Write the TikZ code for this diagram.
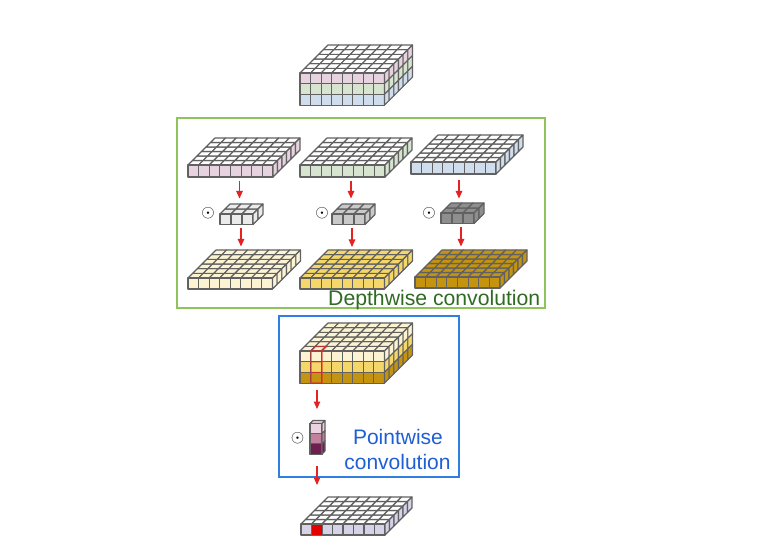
\documentclass[tikz,border=0pt]{standalone}
\usepackage{fontspec}
\setmainfont{Liberation Sans}
\usetikzlibrary{arrows.meta}
\definecolor{pk}{HTML}{E6D3DF}\definecolor{gn}{HTML}{D6E4D0}\definecolor{bl}{HTML}{CFDDEC}
\definecolor{k1}{HTML}{EBEBEB}\definecolor{k2}{HTML}{C9C9C9}\definecolor{k3}{HTML}{8E8E8E}
\definecolor{cr}{HTML}{FBF3D2}\definecolor{ye}{HTML}{F4D768}\definecolor{go}{HTML}{C4930F}
\definecolor{li}{HTML}{D6D3E8}\definecolor{wt}{HTML}{FFFFFF}
\definecolor{p1}{HTML}{EAD3DF}\definecolor{p2}{HTML}{C2809F}\definecolor{p3}{HTML}{6E1F4F}
\definecolor{framegreen}{HTML}{8FC45A}\definecolor{frameblue}{HTML}{2F7FE3}
\definecolor{txtgreen}{HTML}{2F6B22}\definecolor{txtblue}{HTML}{1F5FD6}
\definecolor{arr}{HTML}{E32222}
\tikzset{
  cell/.style={draw=black!62,line width=1.1pt,line join=round},
  flow/.style={draw=arr,line width=1.1pt,-{Triangle[length=7.5pt,width=6.5pt]}},
  frame/.style={draw=#1,line width=1.6pt,inner sep=0pt,fill=none},
  dotop/.style={inner sep=0pt,font=\fontsize{17}{17}\selectfont},
  cap/.style={font=\fontsize{#1}{#1}\selectfont,inner sep=0pt}
}
% \blk{name}{x,y of front top-left}{width,layer h,cols,rows,depth}{top colour}{layer colours}
\def\blkparse#1,#2,#3,#4,#5;{\def\bw{#1}\def\bh{#2}\def\bc{#3}\def\br{#4}\def\bd{#5}}
\newcommand\blk[5]{%
  \blkparse#3;
  \coordinate (#1) at (#2);
  \begin{scope}[shift={(#2)}]
    \pgfmathsetmacro\cw{\bw/\bc}\pgfmathsetmacro\st{\bd/\br}
    \foreach \i in {1,...,\bc}{\foreach \j in {1,...,\br}{
      \pgfmathsetmacro\xa{(\i-1)*\cw+(\j-1)*\st}
      \pgfmathsetmacro\ya{-(\j-1)*\st}
      \draw[cell,fill=#4] (\xa,\ya) -- ++(\cw,0) -- ++(\st,-\st) -- ++(-\cw,0) -- cycle;
    }}
    \foreach \c [count=\k] in {#5}{
      \pgfmathsetmacro\yt{(\k-1)*\bh}
      \foreach \i in {1,...,\bc}{
        \pgfmathsetmacro\xa{(\i-1)*\cw}
        \draw[cell,fill=\c] (\xa,\yt) rectangle ++(\cw,\bh);
      }
      \foreach \j in {1,...,\br}{
        \pgfmathsetmacro\xa{\bw+(\j-1)*\st}
        \pgfmathsetmacro\ya{\yt-(\j-1)*\st}
        \draw[cell,fill=\c] (\xa,\ya) -- ++(\st,-\st) -- ++(0,\bh) -- ++(-\st,\st) -- cycle;
      }
    }
  \end{scope}%
}
\begin{document}
\begin{tikzpicture}[x=1pt,y=-1pt]
\useasboundingbox (0,0) rectangle (769,548);
\fill[white] (0,0) rectangle (769,548);

\node[frame=framegreen,minimum width=368pt,minimum height=190pt] (depthbox) at (361,213) {};
\node[frame=frameblue,minimum width=180pt,minimum height=161pt] (pointbox) at (369,396.5) {};

\blk{input}{300,73}{84.5,10.7,8,6,28}{wt}{pk,gn,bl}

\blk{s1}{188,165}{85,12,8,6,27}{wt}{pk}
\blk{s2}{300,165}{85,12,8,6,27}{wt}{gn}
\blk{s3}{411,162}{85,12,8,6,27}{wt}{bl}

\blk{k1}{220,214}{33,10.5,3,2,10}{k1}{k1}
\blk{k2}{332,214}{33,10.5,3,2,10}{k2}{k2}
\blk{k3}{441,213}{33,10.5,3,2,10}{k3}{k3}

\blk{o1}{188,278}{84.5,11,8,6,28}{cr}{cr}
\blk{o2}{300,278}{84.5,11,8,6,28}{ye}{ye}
\blk{o3}{415,277}{85,11,8,6,27}{go}{go}

\blk{merged}{300,351}{84.5,10.7,8,6,28}{cr}{cr,ye,go}
\coordinate (colA) at (311,351);
\draw[draw=arr,opacity=.75,line width=1.1pt,line join=round]
  (colA) rectangle ++(11,32) (colA)++(0,10.7) -- ++(11,0) (colA)++(0,21.4) -- ++(11,0)
  (colA) -- ++(4.5,-4.5) -- ++(11,0) -- ++(-4.5,4.5);

\blk{pk}{310,423.5}{12,10.2,1,1,3}{p1}{p1,p2,p3}

\blk{res}{301,524}{84,11,8,6,27}{wt}{li}
\coordinate (rescell) at (311.5,524);
\fill[red!90!black,draw=black!60,line width=.6pt] (rescell) rectangle ++(10.5,11);

\node[dotop] (d1) at (208,213) {$\odot$};
\node[dotop] (d2) at (322,213) {$\odot$};
\node[dotop] (d3) at (429,213) {$\odot$};
\node[dotop] (d4) at (297.5,438) {$\odot$};

\coordinate (a1s) at (239.5,181); \coordinate (a1e) at (239.5,198.5);
\coordinate (a2s) at (241,228);   \coordinate (a2e) at (241,246.5);
\coordinate (b1s) at (351,181);   \coordinate (b1e) at (351,198.5);
\coordinate (b2s) at (352,228);   \coordinate (b2e) at (352,247);
\coordinate (c1s) at (459,180);   \coordinate (c1e) at (459,198.5);
\coordinate (c2s) at (461,227);   \coordinate (c2e) at (461,246.5);
\coordinate (e1s) at (317,390);   \coordinate (e1e) at (317,409);
\coordinate (e2s) at (317,466);   \coordinate (e2e) at (317,485);
\foreach \p in {a1,a2,b1,b2,c1,c2,e1,e2}{\draw[flow] (\p s) -- (\p e);}

\node[cap=21.2,text=txtgreen,anchor=base west] (dlabel) at (328,305.5) {Depthwise convolution};
\node[cap=21,text=txtblue,anchor=base] (plabel1) at (398,444) {Pointwise};
\node[cap=21,text=txtblue,anchor=base] (plabel2) at (397.5,469) {convolution};
\end{tikzpicture}
\end{document}
